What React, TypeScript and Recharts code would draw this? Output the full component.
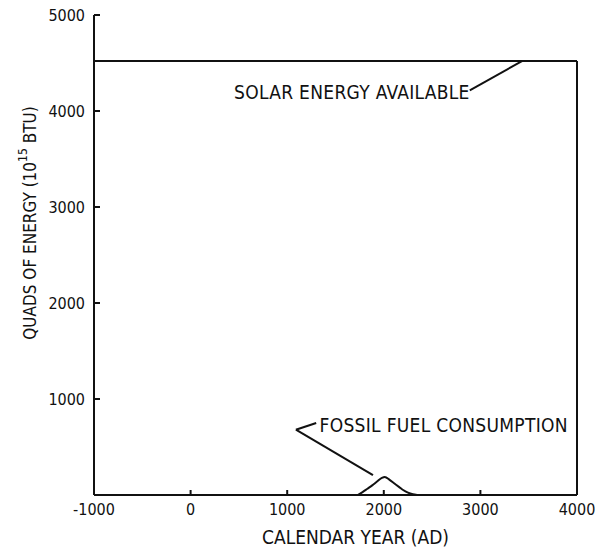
import {
  LineChart,
  Line,
  XAxis,
  YAxis,
  ReferenceLine,
  ReferenceDot,
  Label,
} from 'recharts'

const X_TICKS = [-1000, 0, 1000, 2000, 3000, 4000]
const Y_TICKS = [0, 1000, 2000, 3000, 4000, 5000]

const SOLAR = 4520

const solarData = [
  { year: -1000, quads: SOLAR },
  { year: 4000, quads: SOLAR },
]

// fossil fuel "blip" around the year 2000
const fossilYears = [1730, 1780, 1830, 1880, 1930, 1980, 2010, 2060, 2110, 2160, 2200, 2250, 2300, 2345]
const fossilQuads = [0, 30, 65, 100, 140, 178, 188, 158, 120, 82, 52, 25, 8, 0]
const fossilData = fossilYears.map((year, i) => ({ year, quads: fossilQuads[i] }))

// leader lines (data coords)
const solarLeader = [{ x: 2890, y: 4215 }, { x: 3430, y: SOLAR }]
const fossilLeader1 = [{ x: 1300, y: 750 }, { x: 1090, y: 680 }]
const fossilLeader2 = [{ x: 1090, y: 680 }, { x: 1888, y: 208 }]

const FONT = '"Liberation Sans Narrow", "DejaVu Sans Condensed", "Roboto Condensed", sans-serif'
const INK = '#111'

// ticks point inward, so draw tick + label ourselves
// (tickSize/tickMargin = 0 → x,y given are on the axis line)
function XTick(props: any) {
  const { x, y, payload } = props
  return (
    <g>
      <line x1={x} x2={x} y1={y} y2={y - 5} stroke={INK} strokeWidth={2} />
      <text x={x} y={y + 20} textAnchor="middle" fill={INK} fontSize={16} fontFamily={FONT}>
        {payload.value}
      </text>
    </g>
  )
}

function YTick(props: any) {
  const { x, y, payload } = props
  if (payload.value === 0) return null
  return (
    <g>
      <line x1={x} x2={x + 6} y1={y} y2={y} stroke={INK} strokeWidth={2} />
      <text x={x - 9} y={y} dy="0.35em" textAnchor="end" fill={INK} fontSize={16} fontFamily={FONT}>
        {payload.value}
      </text>
    </g>
  )
}

function YTitle() {
  const cx = 30
  const cy = 223
  return (
    <text
      x={cx}
      y={cy}
      transform={`rotate(-90 ${cx} ${cy})`}
      textAnchor="middle"
      dominantBaseline="central"
      fill={INK}
      fontFamily={FONT}
      fontSize={17}
    >
      QUADS OF ENERGY (10<tspan dy={-7} fontSize={12}>15</tspan>
      <tspan dy={7}> BTU)</tspan>
    </text>
  )
}

const annoStyle = { fill: INK, fontSize: 19, fontFamily: FONT, letterSpacing: 0.3 }

export default function App() {
  return (
    <div style={{ position: 'absolute', left: 0, top: 0, background: '#fff' }}>
      <LineChart
        width={595}
        height={548}
        margin={{ top: 15, right: 18, bottom: 0, left: 0 }}
        style={{ fontFamily: FONT }}
      >
        <XAxis
          type="number"
          dataKey="year"
          domain={[-1000, 4000]}
          ticks={X_TICKS}
          allowDataOverflow
          height={53}
          stroke={INK}
          strokeWidth={2}
          tickLine={false}
          tickSize={0}
          tickMargin={0}
          tick={<XTick />}
        >
          <Label
            value="CALENDAR YEAR (AD)"
            position="insideBottom"
            dx={20}
            offset={4}
            style={{ fill: INK, fontSize: 19, fontFamily: FONT }}
          />
        </XAxis>
        <YAxis
          type="number"
          domain={[0, 5000]}
          ticks={Y_TICKS}
          width={94}
          stroke={INK}
          strokeWidth={2}
          tickLine={false}
          tickSize={0}
          tickMargin={0}
          tick={<YTick />}
        >
          <Label content={<YTitle />} />
        </YAxis>
        <ReferenceLine
          segment={[{ x: 4000, y: 0 }, { x: 4000, y: SOLAR }]}
          stroke={INK}
          strokeWidth={2}
        />
        <Line
          data={solarData}
          dataKey="quads"
          type="linear"
          stroke={INK}
          strokeWidth={2}
          dot={false}
          isAnimationActive={false}
        />
        <Line
          data={fossilData}
          dataKey="quads"
          type="monotone"
          stroke={INK}
          strokeWidth={2}
          dot={false}
          isAnimationActive={false}
        />
        <ReferenceLine segment={solarLeader} stroke={INK} strokeWidth={2} />
        <ReferenceLine segment={fossilLeader1} stroke={INK} strokeWidth={2} />
        <ReferenceLine segment={fossilLeader2} stroke={INK} strokeWidth={2} />
        <ReferenceDot
          x={450}
          y={4200}
          r={0}
          label={{ value: 'SOLAR ENERGY AVAILABLE', position: 'right', offset: 0, ...annoStyle }}
        />
        <ReferenceDot
          x={1335}
          y={730}
          r={0}
          label={{ value: 'FOSSIL FUEL CONSUMPTION', position: 'right', offset: 0, ...annoStyle }}
        />
      </LineChart>
    </div>
  )
}
